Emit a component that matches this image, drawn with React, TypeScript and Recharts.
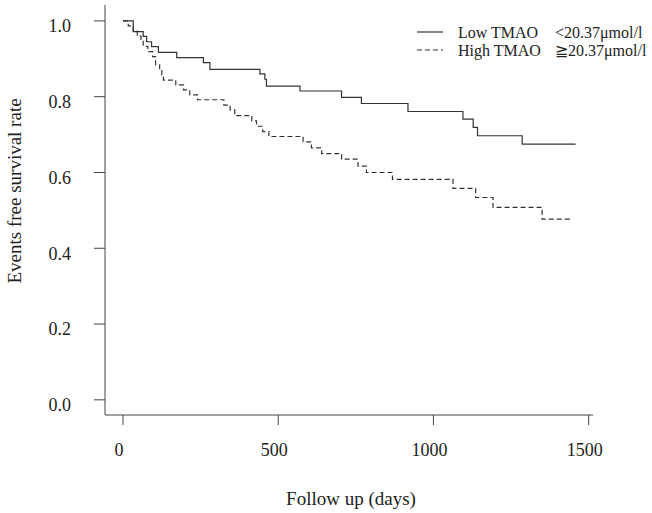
import { LineChart, Line, XAxis, YAxis, Label } from 'recharts'

// Kaplan-Meier steps (days, survival)
const lowTimes = [0, 33, 65, 76, 92, 114, 173, 259, 280, 441, 457, 462, 570, 704, 768, 918, 1095, 1128, 1142, 1286, 1458]
const lowSurv = [1.0, 0.972, 0.959, 0.945, 0.932, 0.917, 0.903, 0.89, 0.872, 0.86, 0.846, 0.828, 0.815, 0.798, 0.782, 0.761, 0.741, 0.719, 0.697, 0.675, 0.675]

const highTimes = [0, 17, 33, 46, 58, 65, 80, 95, 105, 118, 125, 130, 170, 195, 215, 240, 325, 345, 360, 415, 430, 450, 470, 580, 607, 640, 704, 757, 784, 868, 1063, 1136, 1192, 1350, 1449]
const highSurv = [1.0, 0.987, 0.973, 0.96, 0.946, 0.933, 0.919, 0.906, 0.884, 0.871, 0.857, 0.844, 0.831, 0.818, 0.805, 0.792, 0.778, 0.765, 0.75, 0.736, 0.722, 0.708, 0.695, 0.681, 0.665, 0.65, 0.635, 0.617, 0.6, 0.582, 0.558, 0.534, 0.508, 0.477, 0.477]

const xTicks = [0, 500, 1000, 1500]
const yTicks = [0, 0.2, 0.4, 0.6, 0.8, 1.0]

const groupNames = ['Low TMAO', 'High TMAO']
const groupCutoffs = ['<20.37μmol/l', '≧20.37μmol/l']

const FONT = "'Liberation Serif', 'Times New Roman', serif"
const INK = '#333'

const lowData = lowTimes.map((t, i) => ({ t, s: lowSurv[i] }))
const highData = highTimes.map((t, i) => ({ t, s: highSurv[i] }))

// legend drawn on top of the chart (recharts Legend would steal plot height)
function KmLegend() {
  return (
    <svg width={242} height={40} style={{ position: 'absolute', left: 410, top: 22, display: 'block' }}>
      {groupNames.map((name, i) => (
        <g key={name} fontFamily={FONT} fontSize={16} fill="#222">
          <line
            x1={7}
            x2={33}
            y1={10 + i * 18}
            y2={10 + i * 18}
            stroke={INK}
            strokeWidth={1.2}
            strokeDasharray={i === 1 ? '5 3' : undefined}
          />
          <text x={48} y={10 + i * 18} dy="0.35em">{name}</text>
          <text x={145} y={10 + i * 18} dy="0.35em">{groupCutoffs[i]}</text>
        </g>
      ))}
    </svg>
  )
}

export default function App() {
  return (
    <div style={{ position: 'absolute', left: 0, top: 0, width: 652, height: 513, background: '#fff' }}>
      <LineChart width={652} height={513} margin={{ top: 5, right: 59, left: 45, bottom: 38 }}>
        <XAxis
          type="number"
          dataKey="t"
          domain={[-58, 1514]}
          ticks={xTicks}
          allowDataOverflow
          height={60}
          tickSize={10}
          tickMargin={18}
          stroke="#444"
          tick={{ fill: '#222', fontSize: 18, fontFamily: FONT, dx: -4 }}
        >
          <Label
            content={() => (
              <text x={351} y={498} textAnchor="middle" dy="0.35em" fontFamily={FONT} fontSize={19} fill="#222">
                Follow up (days)
              </text>
            )}
          />
        </XAxis>
        <YAxis
          type="number"
          domain={[-0.04, 1.042]}
          ticks={yTicks}
          allowDataOverflow
          width={60}
          tickSize={11}
          tickMargin={23}
          stroke="#444"
          tickFormatter={(v: number) => v.toFixed(1)}
          tick={{ fill: '#222', fontSize: 18, fontFamily: FONT, dy: 5 }}
        >
          <Label
            content={() => (
              <text
                x={14}
                y={191}
                transform="rotate(-90 14 191)"
                textAnchor="middle"
                dy="0.35em"
                fontFamily={FONT}
                fontSize={19}
                fill="#222"
              >
                Events free survival rate
              </text>
            )}
          />
        </YAxis>
        <Line
          data={lowData}
          dataKey="s"
          name={groupNames[0]}
          type="stepAfter"
          stroke={INK}
          strokeWidth={1.2}
          dot={false}
          isAnimationActive={false}
        />
        <Line
          data={highData}
          dataKey="s"
          name={groupNames[1]}
          type="stepAfter"
          stroke={INK}
          strokeWidth={1.2}
          strokeDasharray="5 3"
          dot={false}
          isAnimationActive={false}
        />
      </LineChart>
      <KmLegend />
    </div>
  )
}
